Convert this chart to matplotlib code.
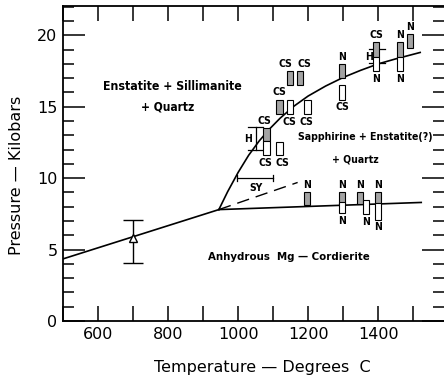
import matplotlib
matplotlib.use("Agg")
import matplotlib.pyplot as plt
from matplotlib.patches import Rectangle
from matplotlib.ticker import MultipleLocator

# ---------------- data ----------------
# lower boundary (Mg-cordierite breakdown, low T)
low_T = [500, 945]
low_P = [4.35, 7.8]
# upper boundary curve (En+Sill+Qz / Sapph+En+Qz)
up_T = [945, 970, 1000, 1030, 1060, 1090, 1120, 1160, 1200, 1250, 1300, 1350, 1400, 1450, 1520]
up_P = [7.8, 9.05, 10.4, 11.6, 12.6, 13.45, 14.2, 15.05, 15.75, 16.45, 17.05, 17.55, 18.0, 18.35, 18.8]
# cordierite upper stability (high T)
flat_T = [945, 1523]
flat_P = [7.8, 8.3]
# dashed line
dash_T = [945, 1170]
dash_P = [7.8, 9.7]

# triangle point with error bar
tri_T = [700]
tri_P = [5.8]
tri_lo = [4.05]
tri_hi = [7.06]

# SY horizontal bar
sy_T = [997, 1100]
sy_P = 10.0

# H brackets: (T, P_low, P_high)
h_T = [1050, 1397]
h_lo = [12.0, 18.05]
h_hi = [13.6, 19.05]

# experiment boxes
box_T = [1081, 1081, 1118, 1118, 1149, 1198, 1149, 1177, 1297, 1297, 1394, 1394, 1463, 1463, 1491,
         1197, 1297, 1297, 1348, 1366, 1400, 1400]
box_lo = [12.6, 11.6, 11.6, 14.5, 14.5, 14.5, 16.5, 16.5, 17.0, 15.5, 18.5, 17.5, 18.5, 17.5, 19.1,
          8.15, 8.2, 7.55, 8.2, 7.5, 8.25, 7.1]
box_hi = [13.5, 12.6, 12.5, 15.5, 15.5, 15.5, 17.5, 17.5, 18.0, 16.5, 19.5, 18.5, 19.5, 18.5, 20.1,
          9.0, 9.0, 8.3, 9.0, 8.5, 9.0, 8.25]
box_shaded = [True, False, False, True, False, False, True, True, True, False, True, False, True, False, True,
              True, True, False, True, False, True, False]
box_label = ["CS", "CS", "CS", "CS", "CS", "CS", "CS", "CS", "N", "CS", "CS", "N", "N", "N", "N",
             "N", "N", "N", "N", "N", "N", "N"]
box_label_pos = ["above", "below", "below", "above", "below", "below", "above", "above", "above", "below",
                 "above", "below", "above", "below", "above",
                 "above", "above", "below", "above", "below", "above", "below"]
box_label_dx = [-5, -4, 8, 0, -2, -2, -14, 12, 0, 0, 0, 0, 0, 0, 0,
                0, 0, 0, 0, 0, 0, 0]

region_text = ["Enstatite + Sillimanite", "+ Quartz", "Sapphirine + Enstatite(?)", "+ Quartz",
               "Anhydrous  Mg \u2014 Cordierite"]
region_T = [811, 800, 1362, 1334, 1146]
region_P = [16.4, 15.0, 12.9, 11.3, 4.45]
region_size = [8.8, 8.6, 7.6, 7.5, 8.2]

xticks = [600, 800, 1000, 1200, 1400]
yticks = [0, 5, 10, 15, 20]

# ---------------- plot ----------------
fig = plt.figure(figsize=(4.44, 3.77), dpi=100)
ax = fig.add_axes([0.142, 0.1485, 0.858, 0.8355])
ax.set_xlim(500, 1588)
ax.set_ylim(0, 22.05)

lw = 1.2
ax.plot(low_T, low_P, color="black", lw=lw)
ax.plot(up_T, up_P, color="black", lw=lw)
ax.plot(flat_T, flat_P, color="black", lw=lw)
ax.plot(dash_T, dash_P, color="black", lw=1.0, dashes=(9, 5))

ax.errorbar(tri_T, tri_P, yerr=[[tri_P[0] - tri_lo[0]], [tri_hi[0] - tri_P[0]]],
            fmt="^", mfc="white", mec="black", ms=6, mew=1.0, ecolor="black",
            elinewidth=1.0, capsize=7, capthick=1.2)

ax.plot(sy_T, [sy_P, sy_P], color="black", lw=0.9)
for t in sy_T:
    ax.plot([t, t], [sy_P - 0.22, sy_P + 0.22], color="black", lw=0.9)

font = dict(family="DejaVu Sans", fontstretch="condensed", fontweight="bold")
ax.text(1050, 9.3, "SY", ha="center", va="center", fontsize=7.5, **font)

# H brackets
for t, lo, hi in zip(h_T, h_lo, h_hi):
    ax.plot([t, t], [lo, hi], color="black", lw=0.9)
    ax.plot([t - 22, t + 22], [lo, lo], color="black", lw=0.9)
    ax.plot([t - 22, t + 22], [hi, hi], color="black", lw=0.9)
    ax.text(t - 23, (lo + hi) / 2 - 0.05, "H", ha="center", va="center", fontsize=7.5, **font)

w = 18
for t, lo, hi, sh, lab, pos, dx in zip(box_T, box_lo, box_hi, box_shaded, box_label,
                                       box_label_pos, box_label_dx):
    r = Rectangle((t - w / 2, lo), w, hi - lo, facecolor="#a3a3a3" if sh else "white",
                  edgecolor="black", lw=0.8, zorder=3)
    ax.add_patch(r)
    if pos == "above":
        ax.text(t + dx, hi + 0.15, lab, ha="center", va="bottom", fontsize=7.5, zorder=4, **font)
    else:
        ax.text(t + dx, lo - 0.2, lab, ha="center", va="top", fontsize=7.5, zorder=4, **font)

for s, t, p, fs in zip(region_text, region_T, region_P, region_size):
    ax.text(t, p, s, ha="center", va="center", fontsize=fs, **font)

# axes styling
ax.spines["right"].set_visible(False)
for sp in ["left", "bottom", "top"]:
    ax.spines[sp].set_linewidth(1.3)
ax.set_xticks(xticks)
ax.set_xticks(range(500, 1600, 100), minor=True)
ax.set_yticks(yticks)
ax.yaxis.set_minor_locator(MultipleLocator(1))
ax.tick_params(axis="x", which="both", direction="in", top=True, bottom=True, length=11, width=1.1,
               labelsize=11.5, pad=4)
ax.tick_params(axis="y", which="major", direction="in", left=True, right=True, length=16, width=1.1,
               labelsize=11.5, pad=4)
ax.tick_params(axis="y", which="minor", direction="in", left=True, right=True, length=8, width=1.1)

ax.set_xlabel("Temperature \u2014 Degrees  C", fontsize=11.5)
ax.set_ylabel("Pressure \u2014 Kilobars", fontsize=11.5)
ax.xaxis.set_label_coords(0.522, -0.125)
ax.yaxis.set_label_coords(-0.102, 0.463)

fig.savefig("out.png", dpi=100)
